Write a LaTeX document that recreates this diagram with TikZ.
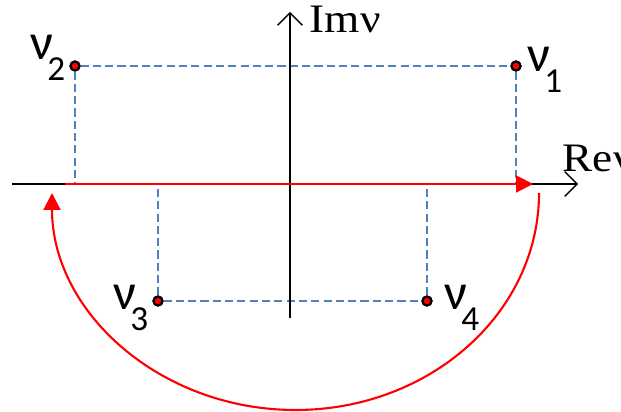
\documentclass[tikz,border=0pt]{standalone}
\usepackage{fontspec}
\newfontfamily\calfont{Carlito}
\newfontfamily\timesfont{Liberation Serif}
\usetikzlibrary{arrows.meta,positioning,calc}
\definecolor{blueline}{RGB}{79,129,189}
\newcommand{\nulab}[1]{\calfont\fontsize{14.5}{16}\selectfont ν\kern-0.12em\raisebox{-0.4em}{\fontsize{10}{12}\selectfont #1}}
\newcommand{\axlab}[1]{\scalebox{1.12}[1]{\timesfont\fontsize{11.5}{13}\selectfont #1}}

\begin{document}
\begin{tikzpicture}[x=0.01cm,y=0.01cm,
    pole/.style={circle,draw=black,fill=red,inner sep=0pt,minimum size=0.09cm,line width=0.6pt},
    proj/.style={draw=blueline,dash pattern=on 2.3pt off 1.2pt,line width=0.5pt},
    axis/.style={line width=0.4pt,-{Straight Barb[length=3.5pt,width=7pt]}},
    contour/.style={red,line width=0.6pt,-{Triangle[length=4.8pt,width=4.8pt]}},
    lab/.style={inner sep=0pt,anchor=base west}]
    \useasboundingbox (0,0) rectangle (621,412);
    % poles
    \node[pole] (v1) at (516,346) {};
    \node[pole] (v2) at (75,346) {};
    \node[pole] (v3) at (158,111) {};
    \node[pole] (v4) at (427,111) {};
    % axes
    \coordinate (xl) at (12,228);
    \coordinate (xr) at (578,228);
    \coordinate (yb) at (290,94);
    \coordinate (yt) at (290,400);
    % projections onto the real axis
    \draw[proj] (v2) -- (v1);
    \draw[proj] (v3) -- (v4);
    \draw[proj] (v2) -- (v2 |- xl);
    \draw[proj] (v1) -- (v1 |- xl);
    \draw[proj] (v3) -- (v3 |- xl);
    \draw[proj] (v4) -- (v4 |- xl);
    \draw[axis] (xl) -- (xr);
    \draw[axis] (yb) -- (yt);
    \node[lab] (im) at (309,379) {\axlab{Imν}};
    \node[lab] (re) at (562,240) {\axlab{Reν}};
    % contour
    \coordinate (c0) at (65,228);
    \coordinate (c1) at (533,228);
    \coordinate (c2) at (539,219);
    \draw[contour] (c0) -- (c1);
    \draw[contour] (c2) arc[start angle=0,end angle=-180,x radius=243.5,y radius=217];
    \node[pole] at (v1) {};
    \node[pole] at (v2) {};
    \node[pole] at (v3) {};
    \node[pole] at (v4) {};
    % labels
    \node[lab] (l1) at (527,340) {\nulab{1}};
    \node[lab] (l2) at (30,352) {\nulab{2}};
    \node[lab] (l3) at (113,102) {\nulab{3}};
    \node[lab] (l4) at (444,102) {\nulab{4}};
\end{tikzpicture}
\end{document}
